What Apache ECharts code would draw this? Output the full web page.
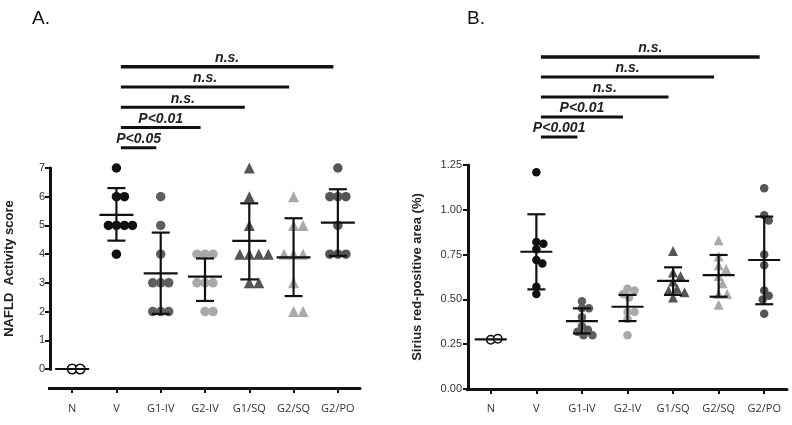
<!DOCTYPE html>
<html>
<head>
<meta charset="utf-8">
<script src="https://cdn.jsdelivr.net/npm/echarts@6/dist/echarts.min.js"></script>
<style>
html,body{margin:0;padding:0;background:#fff;}
#chart{width:792px;height:425px;}
</style>
</head>
<body>
<div id="chart"></div>
<script>
// ---------- data ----------
const categories = ['N', 'V', 'G1-IV', 'G2-IV', 'G1/SQ', 'G2/SQ', 'G2/PO'];

// Panel A: NAFLD Activity score
const nasN = [0, 0];
const nasV = [7, 6, 6, 5, 5, 5, 5, 4];
const nasG1IV = [6, 5, 4, 3, 3, 3, 2, 2, 2];
const nasG2IV = [4, 4, 4, 3, 3, 3, 2, 2];
const nasG1SQ = [7, 6, 5, 4, 4, 4, 4, 3, 3];
const nasG2SQ = [6, 5, 5, 4, 4, 4, 3, 2, 2];
const nasG2PO = [7, 6, 6, 6, 5, 4, 4, 4];
const nasMean = [0, 5.37, 3.33, 3.22, 4.46, 3.89, 5.10];
const nasLow = [0, 4.47, 1.92, 2.37, 3.12, 2.54, 3.94];
const nasHigh = [0, 6.30, 4.75, 3.85, 5.77, 5.25, 6.26];
const nasTicks = [0, 1, 2, 3, 4, 5, 6, 7];

// Panel B: Sirius red-positive area (%)
const srN = [0.275, 0.28];
const srV = [1.21, 0.82, 0.81, 0.78, 0.72, 0.70, 0.57, 0.53];
const srG1IV = [0.49, 0.45, 0.45, 0.40, 0.35, 0.33, 0.32, 0.30, 0.30];
const srG2IV = [0.56, 0.55, 0.53, 0.51, 0.43, 0.43, 0.39, 0.30];
const srG1SQ = [0.77, 0.65, 0.63, 0.60, 0.56, 0.55, 0.54, 0.51];
const srG2SQ = [0.83, 0.74, 0.69, 0.67, 0.63, 0.59, 0.53, 0.53, 0.47];
const srG2PO = [1.12, 0.97, 0.94, 0.75, 0.69, 0.55, 0.52, 0.50, 0.42];
const srMean = [0.277, 0.766, 0.379, 0.459, 0.603, 0.636, 0.72];
const srLow = [0.277, 0.556, 0.31, 0.379, 0.525, 0.515, 0.473];
const srHigh = [0.277, 0.975, 0.45, 0.525, 0.679, 0.748, 0.962];
const srTicks = [0, 0.25, 0.5, 0.75, 1.0, 1.25];

// Significance brackets (from V to each group)
const bracketFrom = 'V';
const bracketTo = ['G1-IV', 'G2-IV', 'G1/SQ', 'G2/SQ', 'G2/PO'];
const sigA = ['P<0.05', 'P<0.01', 'n.s.', 'n.s.', 'n.s.'];
const sigB = ['P<0.001', 'P<0.01', 'n.s.', 'n.s.', 'n.s.'];

// ---------- layout / style ----------
const gA = {left: 50, top: 168, width: 310, height: 201};
const gB = {left: 468, top: 165, width: 319, height: 224};
const gBrA = {left: 50, top: 46.5, width: 310, height: 121.5};
const gBrB = {left: 468, top: 37, width: 319, height: 120};

const groupStyles = [
  {symbol: 'circle', color: '#ffffff', border: '#111111', open: true},
  {symbol: 'circle', color: '#111111'},
  {symbol: 'circle', color: '#5f5f5f'},
  {symbol: 'circle', color: '#a9a9a9'},
  {symbol: 'triangle', color: '#555555'},
  {symbol: 'triangle', color: '#a9a9a9'},
  {symbol: 'circle', color: '#555555'}
];

// simple beeswarm: horizontal offsets (in category units) to avoid overlap
function swarm(values, pxPerUnit, bandPx, diam) {
  const placed = [];
  const out = [];
  const minD = diam * 0.82;
  values.forEach(v => {
    const y = v * pxPerUnit;
    let off = 0;
    for (let k = 0; k < 400; k++) {
      const cand = (k % 2 === 1 ? 1 : -1) * Math.ceil(k / 2) * 0.5;
      let ok = true;
      for (const p of placed) {
        const dx = cand - p[0], dy = y - p[1];
        if (dx * dx + dy * dy < minD * minD) { ok = false; break; }
      }
      if (ok) { off = cand; break; }
    }
    placed.push([off, y]);
    out.push(off / bandPx);
  });
  return out;
}

function scatterSeries(groups, xIdx, yIdx, pxPerUnit, bandPx, size, triSize) {
  return groups.map((vals, i) => {
    const st = groupStyles[i];
    const sz = st.symbol === 'triangle' ? triSize : size;
    const offs = swarm(vals, pxPerUnit, bandPx, sz);
    return {
      type: 'scatter',
      xAxisIndex: xIdx, yAxisIndex: yIdx,
      symbol: st.symbol,
      symbolSize: sz,
      clip: false,
      itemStyle: st.open
        ? {color: st.color, borderColor: st.border, borderWidth: 1.5, opacity: 1}
        : {color: st.color, opacity: 1},
      data: vals.map((v, j) => [i + offs[j], v])
    };
  });
}

function errSeries(xIdx, yIdx, means, lows, highs, meanHalf, capHalf) {
  return {
    type: 'custom',
    xAxisIndex: xIdx, yAxisIndex: yIdx,
    clip: false,
    z: 5,
    encode: {x: 0, y: 1},
    data: means.map((m, i) => [i, m, lows[i], highs[i]]),
    renderItem: function (params, api) {
      const x = api.value(0), m = api.value(1), lo = api.value(2), hi = api.value(3);
      const pm = api.coord([x, m]), pl = api.coord([x, lo]), ph = api.coord([x, hi]);
      const st = {stroke: '#111', lineWidth: 2.2};
      const ch = [{type: 'line', shape: {x1: pm[0] - meanHalf, y1: pm[1], x2: pm[0] + meanHalf, y2: pm[1]}, style: st}];
      if (hi > lo) {
        ch.push({type: 'line', shape: {x1: pl[0], y1: pl[1], x2: ph[0], y2: ph[1]}, style: st});
        ch.push({type: 'line', shape: {x1: pl[0] - capHalf, y1: pl[1], x2: pl[0] + capHalf, y2: pl[1]}, style: st});
        ch.push({type: 'line', shape: {x1: ph[0] - capHalf, y1: ph[1], x2: ph[0] + capHalf, y2: ph[1]}, style: st});
      }
      return {type: 'group', children: ch};
    }
  };
}

// axis frame lines (y-axis line and x-axis line) drawn from the axis extents, on their own layer
function frameSeries(xIdx, yIdx, yMin, yMax, xDrop) {
  return {
    type: 'custom',
    xAxisIndex: xIdx, yAxisIndex: yIdx,
    clip: false,
    zlevel: 1,
    z: 10,
    silent: true,
    encode: {x: 0, y: 1},
    data: [[-0.5, yMin, 6.5, yMax]],
    renderItem: function (params, api) {
      const p0 = api.coord([api.value(0), api.value(1)]);
      const pTop = api.coord([api.value(0), api.value(3)]);
      const pR = api.coord([api.value(2), api.value(1)]);
      const st = {stroke: '#111', lineWidth: 3};
      return {type: 'group', children: [
        {type: 'rect', shape: {x: p0[0] - 1, y: pTop[1], width: 3, height: p0[1] - pTop[1] + 1.5}, style: {fill: '#111'}},
        {type: 'rect', shape: {x: p0[0] - 2, y: p0[1] + xDrop - 1, width: pR[0] - p0[0] + 2, height: 3}, style: {fill: '#111'}}
      ]};
    }
  };
}

function bracketSeries(xIdx, yIdx, labels) {
  const fromI = categories.indexOf(bracketFrom);
  return {
    type: 'custom',
    xAxisIndex: xIdx, yAxisIndex: yIdx,
    clip: false,
    encode: {x: 0, y: 2},
    data: bracketTo.map((c, k) => [fromI + 0.1, categories.indexOf(c) - 0.1, k + 1]),
    renderItem: function (params, api) {
      const a = api.coord([api.value(0), api.value(2)]);
      const b = api.coord([api.value(1), api.value(2)]);
      const label = labels[params.dataIndex];
      return {
        type: 'group',
        children: [
          {type: 'line', shape: {x1: a[0], y1: a[1], x2: b[0], y2: b[1]},
           style: {stroke: '#111', lineWidth: params.dataIndex === 4 ? 3.4 : 2.8}},
          {type: 'text', x: (a[0] + b[0]) / 2, y: a[1] - 1.5,
           style: {text: label, align: 'center', verticalAlign: 'bottom',
                   fontSize: 14, fontWeight: 'bold', fontStyle: 'italic',
                   fontFamily: 'Liberation Sans', fill: '#222'}}
        ]
      };
    }
  };
}

const chart = echarts.init(document.getElementById('chart'), null, {renderer: 'canvas'});

const catAxisCommon = {
  type: 'category',
  data: categories,
  axisLine: {show: true, onZero: false, lineStyle: {color: '#111', width: 3}},
  axisTick: {show: true, alignWithLabel: true, length: 5, lineStyle: {color: '#111', width: 2}},
  axisLabel: {interval: 0, color: '#333', fontSize: 11, fontFamily: 'Open Sans'},
  splitLine: {show: false}
};
const hiddenX = {type: 'value', min: -0.5, max: 6.5, show: false};

const yCommon = {
  type: 'value',
  axisLine: {show: true, onZero: false, lineStyle: {color: '#111', width: 3}},
  axisTick: {show: true, length: 5, lineStyle: {color: '#111', width: 2}},
  splitLine: {show: false},
  nameLocation: 'middle',
  nameTextStyle: {fontSize: 13, fontWeight: 'bold', color: '#222', fontFamily: 'Liberation Sans'}
};

const pxA = gA.height / (nasTicks[nasTicks.length - 1] - nasTicks[0]);
const bandA = gA.width / categories.length;
const pxB = gB.height / (srTicks[srTicks.length - 1] - srTicks[0]);
const bandB = gB.width / categories.length;

const option = {
  animation: false,
  backgroundColor: '#fff',
  title: [
    {text: 'A.', left: 27, top: 4, textStyle: {fontSize: 19, fontWeight: 'normal', color: '#111', fontFamily: 'Liberation Sans'}},
    {text: 'B.', left: 462, top: 4, textStyle: {fontSize: 19, fontWeight: 'normal', color: '#111', fontFamily: 'Liberation Sans'}}
  ],
  grid: [gA, gB, gBrA, gBrB],
  xAxis: [
    Object.assign({}, catAxisCommon, {gridIndex: 0, offset: 19, axisLabel: Object.assign({}, catAxisCommon.axisLabel, {margin: 15})}),
    Object.assign({}, hiddenX, {gridIndex: 0}),
    Object.assign({}, catAxisCommon, {gridIndex: 1, axisLabel: Object.assign({}, catAxisCommon.axisLabel, {margin: 14})}),
    Object.assign({}, hiddenX, {gridIndex: 1}),
    Object.assign({}, hiddenX, {gridIndex: 2}),
    Object.assign({}, hiddenX, {gridIndex: 3})
  ],
  yAxis: [
    Object.assign({}, yCommon, {
      gridIndex: 0, min: nasTicks[0], max: nasTicks[nasTicks.length - 1], interval: 1,
      name: 'NAFLD  Activity score', nameGap: 34,
      axisLabel: {color: '#333', fontSize: 11, margin: 5, fontFamily: 'Liberation Sans'}
    }),
    Object.assign({}, yCommon, {
      gridIndex: 1, min: srTicks[0], max: srTicks[srTicks.length - 1], interval: 0.25,
      name: 'Sirius red-positive area (%)', nameGap: 44,
      axisLabel: {color: '#333', fontSize: 11, margin: 6, fontFamily: 'Liberation Sans',
                  formatter: v => v.toFixed(2)}
    }),
    {type: 'value', gridIndex: 2, min: 0, max: 6, show: false},
    {type: 'value', gridIndex: 3, min: 0, max: 6, show: false}
  ],
  series: [
    ...scatterSeries([nasN, nasV, nasG1IV, nasG2IV, nasG1SQ, nasG2SQ, nasG2PO], 1, 0, pxA, bandA, 9.5, 11),
    errSeries(1, 0, nasMean, nasLow, nasHigh, 17, 9),
    frameSeries(1, 0, nasTicks[0], nasTicks[nasTicks.length - 1], 19),
    ...scatterSeries([srN, srV, srG1IV, srG2IV, srG1SQ, srG2SQ, srG2PO], 3, 1, pxB, bandB, 8.5, 10),
    errSeries(3, 1, srMean, srLow, srHigh, 16, 9),
    frameSeries(3, 1, srTicks[0], srTicks[srTicks.length - 1], 0),
    bracketSeries(4, 2, sigA),
    bracketSeries(5, 3, sigB)
  ]
};
chart.setOption(option);
</script>
</body>
</html>
